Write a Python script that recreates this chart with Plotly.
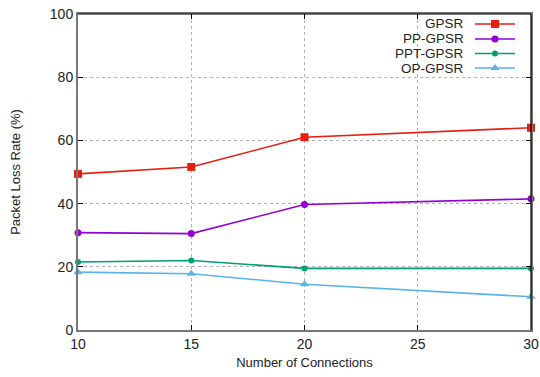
import plotly.graph_objects as go

connections = [10, 15, 20, 30]
gpsr = [49.4, 51.6, 61.0, 64.0]
pp_gpsr = [30.8, 30.5, 39.7, 41.5]
ppt_gpsr = [21.5, 22.0, 19.5, 19.5]
op_gpsr = [18.3, 17.8, 14.5, 10.5]

names = ["GPSR", "PP-GPSR", "PPT-GPSR", "OP-GPSR"]
series = [gpsr, pp_gpsr, ppt_gpsr, op_gpsr]
colors = ["#e51e10", "#9400d3", "#009e73", "#56b4e9"]
symbols = ["square", "circle", "circle", "triangle-up"]
msizes = [8, 7, 6, 8]

x_ticks = [10, 15, 20, 25, 30]
y_ticks = [0, 20, 40, 60, 80, 100]

fig = go.Figure()
for n, s, c, sym, ms in zip(names, series, colors, symbols, msizes):
    fig.add_trace(go.Scatter(x=connections, y=s, mode="lines+markers", name=n,
                             line=dict(color=c, width=1.6),
                             marker=dict(symbol=sym, size=ms, color=c),
                             cliponaxis=False, showlegend=False))

W, H = 540, 377
L_abs, R_abs, T_abs, B_abs = 78, 531, 14, 330
ml, mt = L_abs, T_abs
mr = W - R_abs
mb = H - B_abs
pw, ph = R_abs - L_abs, B_abs - T_abs

def px(xa):
    return (xa - L_abs) / pw

def py(ya):
    return 1 - (ya - T_abs) / ph

rows = [24, 39, 53.5, 68]
annotations = []
shapes = []
for i, (n, c, sym, ms) in enumerate(zip(names, colors, symbols, msizes)):
    yy = py(rows[i])
    annotations.append(dict(x=px(466), y=yy, xref="paper", yref="paper", text=n,
                            showarrow=False, xanchor="right", yanchor="middle",
                            font=dict(family="Liberation Sans, Arial", size=13.5, color="#222")))
    shapes.append(dict(type="line", xref="paper", yref="paper", x0=px(475), x1=px(515),
                       y0=yy, y1=yy, line=dict(color=c, width=1.6)))
    fig.add_trace(go.Scatter(x=[px(495)], y=[yy], xaxis="x2", yaxis="y2", mode="markers",
                             marker=dict(symbol=sym, size=ms, color=c), showlegend=False,
                             hoverinfo="skip"))

# black top and right border
shapes.append(dict(type="line", xref="paper", yref="paper", x0=0, x1=1, y0=1, y1=1,
                   line=dict(color="#000", width=1.2)))
shapes.append(dict(type="line", xref="paper", yref="paper", x0=1, x1=1, y0=0, y1=1,
                   line=dict(color="#000", width=1.2)))

fig.update_layout(
    width=W, height=H,
    margin=dict(l=ml, r=mr, t=mt, b=mb, autoexpand=False),
    paper_bgcolor="white", plot_bgcolor="white",
    font=dict(family="Liberation Sans, Arial", size=14, color="#222"),
    xaxis=dict(range=[10, 30], tickvals=x_ticks, showgrid=True, gridcolor="#b0b0b0",
               griddash="dot", gridwidth=1, zeroline=False, showline=True,
               linecolor="#777", linewidth=2, ticks="inside", ticklen=5, tickcolor="#000",
               mirror="allticks", automargin=False, ticklabeloverflow="allow",
               title=dict(text="Number of Connections", font=dict(size=13), standoff=7)),
    yaxis=dict(range=[0, 100], tickvals=y_ticks, showgrid=True, gridcolor="#b0b0b0",
               griddash="dot", gridwidth=1, zeroline=False, showline=True,
               linecolor="#777", linewidth=2, ticks="inside", ticklen=5, tickcolor="#000",
               mirror="allticks", automargin=False, ticklabeloverflow="allow",
               title=dict(text="Packet Loss Rate (%)", font=dict(size=13), standoff=26)),
    xaxis2=dict(range=[0, 1], overlaying="x", visible=False, fixedrange=True),
    yaxis2=dict(range=[0, 1], overlaying="y", visible=False, fixedrange=True),
    annotations=annotations, shapes=shapes,
)
fig.write_html("out.html", config={"displayModeBar": False},
               post_script="document.body.style.margin='0';document.body.style.overflow='hidden';")
